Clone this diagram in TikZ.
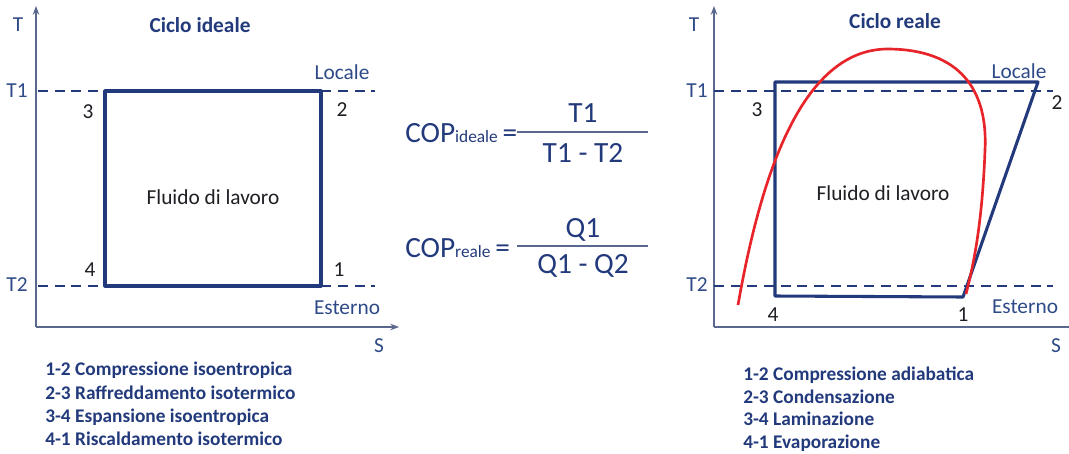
\documentclass[tikz,border=0pt]{standalone}
\usepackage{fontspec}
\setmainfont{Carlito}
\usetikzlibrary{arrows.meta,positioning}
\definecolor{navy}{HTML}{223A7C}
\definecolor{axisblue}{HTML}{2E4A88}
\definecolor{axisgray}{HTML}{5A6890}
\definecolor{curvered}{HTML}{E8242B}
\definecolor{inkdark}{HTML}{1E1E24}

\begin{document}
\begin{tikzpicture}[>=Stealth, x=0.75pt, y=-0.75pt]
\tikzstyle{lbl}=[font=\fontsize{16}{18}\selectfont, text=axisblue, inner sep=0pt]
\tikzstyle{num}=[font=\fontsize{16}{18}\selectfont, text=inkdark, inner sep=0pt]
\tikzstyle{title}=[font=\bfseries\fontsize{16}{18}\selectfont, text=navy, inner sep=0pt]
\tikzstyle{legend}=[font=\bfseries\fontsize{14.5}{16}\selectfont, text=navy, inner sep=0pt, anchor=base west]
\tikzstyle{axis}=[draw=axisgray, line width=0.8pt]
\tikzstyle{iso}=[draw=navy, line width=1.6pt, dash pattern=on 7.5pt off 5pt]
\tikzstyle{cyc}=[draw=navy, line width=2.3pt, line join=round]
\tikzstyle{big}=[font=\fontsize{22}{26}\selectfont, text=navy, inner sep=0pt]
\useasboundingbox (0,0) rectangle (1069,453);

% ---- ciclo ideale ----
\coordinate (o1) at (36,327);
\coordinate (t1top) at (36,6);
\coordinate (s1end) at (399,327);
\draw[axis,->] (o1) -- (t1top);
\draw[axis,->] (o1) -- (s1end);
\node[lbl] (lT) at (18,25) {T};
\node[lbl] (lS) at (379,346) {S};
\node[lbl] (lT1) at (17,91) {T1};
\node[lbl] (lT2) at (17,285) {T2};
\coordinate (d1a) at (38,91);  \coordinate (d1b) at (375,91);
\coordinate (d2a) at (38,286); \coordinate (d2b) at (375,286);
\draw[iso] (d1a) -- (d1b);
\draw[iso] (d2a) -- (d2b);
\coordinate (a1) at (321,286);
\coordinate (a2) at (321,91);
\coordinate (a3) at (105,91);
\coordinate (a4) at (105,286);
\draw[cyc] (a1) -- (a2) -- (a3) -- (a4) -- cycle;
\node[num] (n3) at (88,112) {3};
\node[num] (n2) at (342,110) {2};
\node[num] (n4) at (90,270) {4};
\node[num] (n1) at (339,270) {1};
\node[lbl] (loc1) at (342,72) {Locale};
\node[lbl] (est1) at (347,308) {Esterno};
\node[title] (tit1) at (200,25) {Ciclo ideale};
\node[num] (fl1) at (213,197) {Fluido di lavoro};
\node[legend] (g11) at (45,375) {1-2 Compressione isoentropica};
\node[legend] (g12) at (45,399) {2-3 Raffreddamento isotermico};
\node[legend] (g13) at (45,422) {3-4 Espansione isoentropica};
\node[legend] (g14) at (45,445) {4-1 Riscaldamento isotermico};

% ---- formule COP ----
\node[big, anchor=base west] (copi) at (405,142) {COP{\fontsize{13}{15}\selectfont ideale}\,=};
\node[big, anchor=base] (numi) at (583,122) {T1};
\node[big, anchor=base] (deni) at (583,162) {T1 - T2};
\coordinate (fi1) at (517,132); \coordinate (fi2) at (648,132);
\draw[draw=axisgray, line width=1pt] (fi1) -- (fi2);
\node[big, anchor=base west] (copr) at (405,257) {COP{\fontsize{13}{15}\selectfont reale}\,=};
\node[big, anchor=base] (numr) at (583,237) {Q1};
\node[big, anchor=base] (denr) at (583,273) {Q1 - Q2};
\coordinate (fr1) at (517,246); \coordinate (fr2) at (648,246);
\draw[draw=axisgray, line width=1pt] (fr1) -- (fr2);

% ---- ciclo reale ----
\coordinate (o2) at (714,327);
\coordinate (t2top) at (714,6);
\coordinate (s2end) at (1069,327);
\draw[axis,->] (o2) -- (t2top);
\draw[axis] (o2) -- (s2end);
\node[lbl] (rT) at (694,25) {T};
\node[lbl] (rS) at (1056,346) {S};
\node[lbl] (rT1) at (697,91) {T1};
\node[lbl] (rT2) at (697,285) {T2};
\coordinate (e1a) at (714,91);  \coordinate (e1b) at (1053,91);
\coordinate (e2a) at (714,286); \coordinate (e2b) at (1053,286);
\coordinate (b1) at (963,297);
\coordinate (b2) at (1038,82);
\coordinate (b3) at (775,82);
\coordinate (b4) at (775,296);
\draw[cyc] (b1) -- (b2) -- (b3) -- (b4) -- cycle;
\draw[iso] (e1a) -- (e1b);
\draw[iso] (e2a) -- (e2b);
\draw[draw=curvered, line width=2pt]
  (738,305) .. controls (760,180) and (800,50) .. (887,49)
  .. controls (960,49) and (988,90) .. (985,150)
  .. controls (982,230) and (972,270) .. (966,294);
\node[num] (m3) at (757,110) {3};
\node[num] (m2) at (1057,103) {2};
\node[num] (m4) at (773,315) {4};
\node[num] (m1) at (963,315) {1};
\node[lbl] (loc2) at (1019,71) {Locale};
\node[lbl] (est2) at (1025,307) {Esterno};
\node[title] (tit2) at (895,21) {Ciclo reale};
\node[num] (fl2) at (883,193) {Fluido di lavoro};
\node[legend] (g21) at (743,380) {1-2 Compressione adiabatica};
\node[legend] (g22) at (743,403) {2-3 Condensazione};
\node[legend] (g23) at (743,425) {3-4 Laminazione};
\node[legend] (g24) at (743,448) {4-1 Evaporazione};
\end{tikzpicture}
\end{document}
